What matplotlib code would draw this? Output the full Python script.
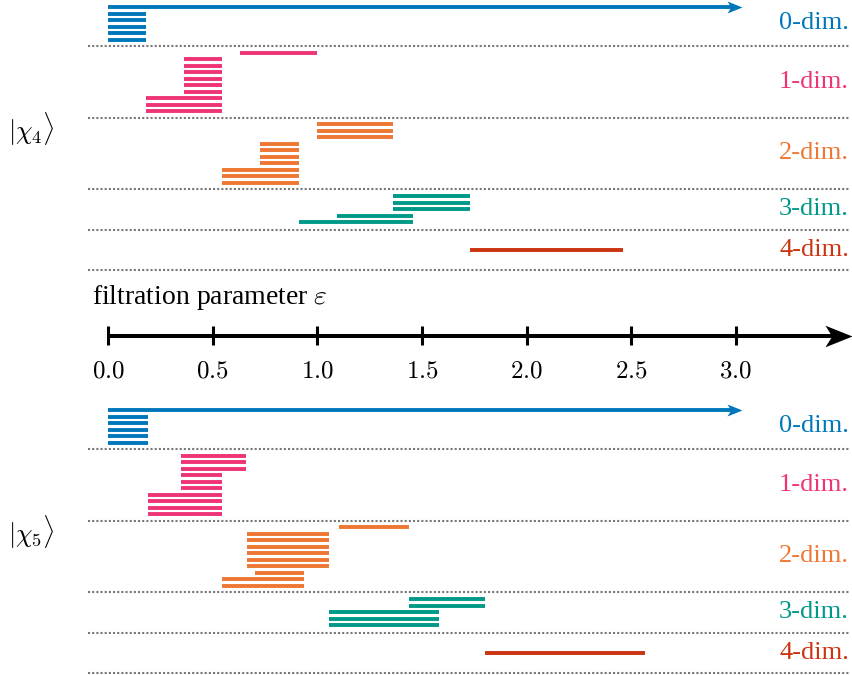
import numpy as np
import matplotlib.pyplot as plt
from matplotlib.path import Path

plt.rcParams['mathtext.fontset'] = 'cm'
plt.rcParams['font.family'] = ['Liberation Serif', 'DejaVu Serif']

INF = np.inf

# persistence intervals (birth, death), listed top to bottom within each dimension
chi4_bars = [
    [(0.0, INF)] + [(0.0, 0.18)] * 5,
    [(0.63, 1.0)] + [(0.363, 0.545)] * 6 + [(0.18, 0.545)] * 3,
    [(1.0, 1.363)] * 3 + [(0.728, 0.911)] * 4 + [(0.545, 0.911)] * 3,
    [(1.363, 1.728)] * 3 + [(1.094, 1.459), (0.911, 1.459)],
    [(1.728, 2.459)],
]
chi5_bars = [
    [(0.0, INF)] + [(0.0, 0.193)] * 5,
    [(0.35, 0.66)] * 3 + [(0.35, 0.545)] * 3 + [(0.193, 0.545)] * 4,
    [(1.102, 1.437)] + [(0.663, 1.054)] * 6 + [(0.702, 0.937)] + [(0.545, 0.937)] * 2,
    [(1.437, 1.803)] * 2 + [(1.054, 1.58)] * 3,
    [(1.803, 2.566)],
]
dim_labels = ['0-dim.', '1-dim.', '2-dim.', '3-dim.', '4-dim.']
dim_colors = ['#0077BB', '#EE3377', '#EE7733', '#009988', '#CC3311']
state_labels = [r'$|\chi_4\rangle$', r'$|\chi_5\rangle$']
tick_values = [0.0, 0.5, 1.0, 1.5, 2.0, 2.5, 3.0]

W, H = 852, 675
PX = 209.3          # pixels per unit of epsilon
X0 = 108            # pixel position of epsilon = 0
PITCH = 6.5         # vertical spacing between bars (px)
MIN_ROWS = 6.25
INF_END = 3.0

fig = plt.figure(figsize=(W / 100, H / 100), dpi=100)
ax = fig.add_axes([0, 0, 1, 1])
ax.set_xlim(-X0 / PX, (W - X0) / PX)
ax.set_ylim(H, 0)
ax.axis('off')

# stealth-style arrow head, tip at the origin
stealth = Path([(0, 0), (-1, 0.4), (-0.75, 0), (-1, -0.4), (0, 0)],
               [Path.MOVETO, Path.LINETO, Path.LINETO, Path.LINETO, Path.CLOSEPOLY])

x_left = -20 / PX
x_right = (W - 3 - X0) / PX


def draw_barcode(bars, top, state):
    y = top
    for dim, ivals in enumerate(bars):
        n = len(ivals)
        h = max(n + 1, MIN_ROWS) * PITCH
        first = y + (h - (n - 1) * PITCH) / 2
        col = dim_colors[dim]
        for i, (b, d) in enumerate(ivals):
            yy = first + i * PITCH
            if np.isinf(d):
                ax.hlines(yy, b, INF_END, color=col, lw=2.8, capstyle='butt')
                ax.plot(INF_END + 6 / PX, yy, marker=stealth, ms=21.6,
                        color=col, mec='none')
            else:
                ax.hlines(yy, b, d, color=col, lw=2.8, capstyle='butt')
        ax.text(x_right, y + h / 2, dim_labels[dim], color=col, fontsize=19,
                ha='right', va='center')
        y += h
        ax.plot([x_left, x_right], [y, y], color='#777777', lw=1.5,
                ls=(0, (1, 1)), solid_capstyle='butt')
    ax.text(-100 / PX, (top + y) / 2 - 6, state, fontsize=19,
            ha='left', va='center')


draw_barcode(chi4_bars, 0.5, state_labels[0])
draw_barcode(chi5_bars, 403.5, state_labels[1])

# filtration axis
axis_y = 335.5
tip = (W - X0) / PX
ax.plot([0, tip - 15 / PX], [axis_y, axis_y], color='black', lw=2.9,
        solid_capstyle='butt')
ax.plot(tip, axis_y, marker=stealth, ms=38.9, color='black', mec='none')
ax.vlines(tick_values, axis_y - 9.5, axis_y + 9.5, color='black', lw=2.2)
for t in tick_values:
    ax.text(t, 371, f'${t:.1f}$', fontsize=18, ha='center', va='center')
ax.text(-16 / PX, 297, r'filtration parameter $\varepsilon$', fontsize=20,
        ha='left', va='center')

fig.savefig('out.png', dpi=100)
